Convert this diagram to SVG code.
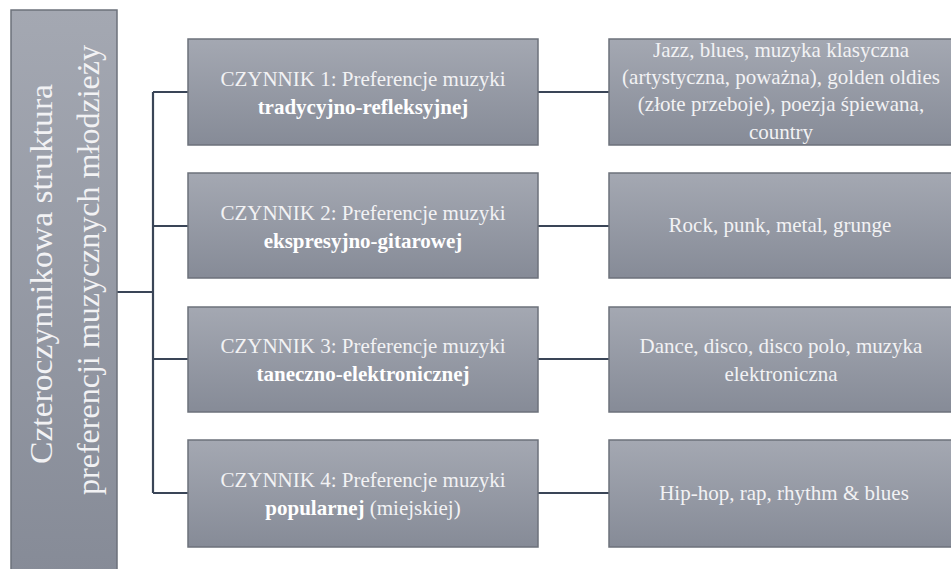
<svg xmlns="http://www.w3.org/2000/svg" width="951" height="569" viewBox="0 0 951 569">
<defs>
<linearGradient id="g" x1="0" y1="0" x2="0" y2="1">
<stop offset="0" stop-color="#a4a8b2"/>
<stop offset="1" stop-color="#868b97"/>
</linearGradient>
<style>
.box{fill:url(#g);stroke:#6c717b;stroke-width:1.5}
.t{font-family:'Liberation Serif','DejaVu Serif',serif;fill:#f2f2f4;text-anchor:middle;font-size:21px}
.r{font-size:32px}
.b{font-weight:bold;fill:#ffffff}
.c{fill:none;stroke:#3a4557;stroke-width:2.2}
</style>
</defs>
<rect width="951" height="569" fill="#ffffff"/>
<g id="connectors">
<path class="c" d="M117 292 H153 M153 92 V493 M153 92 H188 M153 226 H188 M153 359 H188 M153 493 H188"/>
<path class="c" d="M538 92 H609 M538 226 H609 M538 359 H609 M538 493 H609"/>
</g>
<g id="root">
<rect class="box" x="11" y="10" width="106" height="564"/>
<text class="t r" transform="translate(52 274) rotate(-90)" x="0" y="0" textLength="380" lengthAdjust="spacingAndGlyphs">Czteroczynnikowa struktura</text>
<text class="t r" transform="translate(99 270) rotate(-90)" x="0" y="0" textLength="450" lengthAdjust="spacingAndGlyphs">preferencji muzycznych młodzieży</text>
</g>
<g id="f1">
<rect class="box" x="188" y="39" width="350" height="106"/>
<text class="t" x="363" y="86">CZYNNIK 1: Preferencje muzyki</text>
<text class="t b" x="363" y="114">tradycyjno-refleksyjnej</text>
</g>
<g id="f2">
<rect class="box" x="188" y="173" width="350" height="105"/>
<text class="t" x="363" y="220">CZYNNIK 2: Preferencje muzyki</text>
<text class="t b" x="363" y="248">ekspresyjno-gitarowej</text>
</g>
<g id="f3">
<rect class="box" x="188" y="307" width="350" height="105"/>
<text class="t" x="363" y="353">CZYNNIK 3: Preferencje muzyki</text>
<text class="t b" x="363" y="381">taneczno-elektronicznej</text>
</g>
<g id="f4">
<rect class="box" x="188" y="440" width="350" height="107"/>
<text class="t" x="363" y="487">CZYNNIK 4: Preferencje muzyki</text>
<text class="t" x="363" y="515"><tspan class="b">popularnej</tspan> (miejskiej)</text>
</g>
<g id="g1">
<rect class="box" x="609" y="39" width="350" height="106"/>
<text class="t" x="781" y="57">Jazz, blues, muzyka klasyczna</text>
<text class="t" x="781" y="84">(artystyczna, poważna), golden oldies</text>
<text class="t" x="781" y="111">(złote przeboje), poezja śpiewana,</text>
<text class="t" x="781" y="139">country</text>
</g>
<g id="g2">
<rect class="box" x="609" y="173" width="350" height="105"/>
<text class="t" x="780" y="232">Rock, punk, metal, grunge</text>
</g>
<g id="g3">
<rect class="box" x="609" y="307" width="350" height="105"/>
<text class="t" x="781" y="353">Dance, disco, disco polo, muzyka</text>
<text class="t" x="781" y="381">elektroniczna</text>
</g>
<g id="g4">
<rect class="box" x="609" y="440" width="350" height="107"/>
<text class="t" x="784" y="500">Hip-hop, rap, rhythm &amp; blues</text>
</g>
</svg>
